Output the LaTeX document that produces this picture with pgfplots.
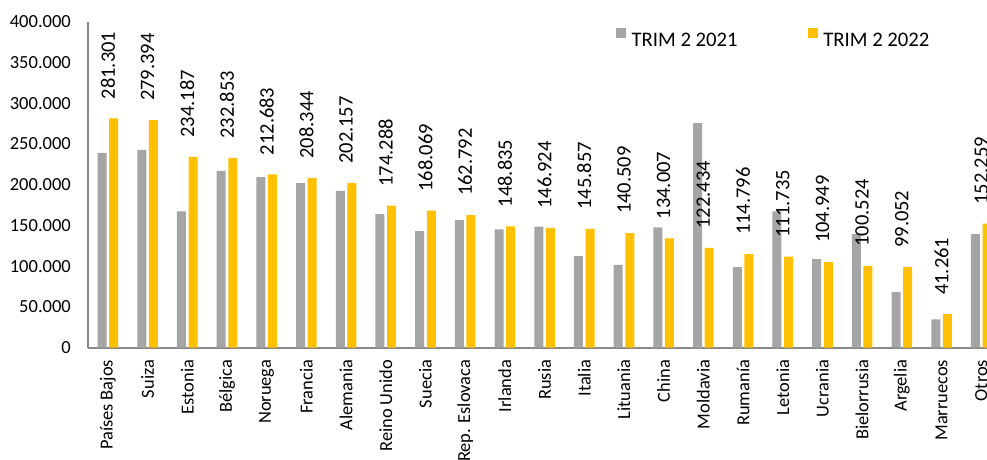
\documentclass[border=0pt]{standalone}
\usepackage{pgfplots}
\pgfplotsset{compat=1.18}
\usepackage{fontspec}
\setmainfont{Carlito}
\definecolor{grey21}{HTML}{A5A5A5}
\definecolor{yel22}{HTML}{FFC000}
\definecolor{axgrey}{HTML}{898989}
\newcommand\xf{\fontsize{18.4}{20}\selectfont}
\newcommand\df{\fontsize{20.5}{22}\selectfont}
\begin{document}
\begin{tikzpicture}
\begin{axis}[
  at={(88pt,-347.7pt)}, anchor=south west,
  scale only axis, width=899pt, height=326pt,
  xmin=-0.5, xmax=22.145, ymin=0, ymax=400000,
  axis x line*=bottom, axis y line*=left,
  axis line style={draw=axgrey, line width=1.8pt, -},
  major tick length=0pt,
  xtick={0,...,22},
  xticklabels={Países Bajos,Suiza,Estonia,Bélgica,Noruega,Francia,Alemania,Reino Unido,Suecia,Rep. Eslovaca,Irlanda,Rusia,Italia,Lituania,China,Moldavia,Rumanía,Letonia,Ucrania,Bielorrusia,Argelia,Marruecos,Otros},
  xticklabel style={yshift=-12pt, rotate=90, anchor=east, inner sep=0pt, font=\xf},
  ytick={0,50000,...,400000},
  scaled y ticks=false,
  yticklabel style={/pgf/number format/.cd, fixed, precision=0, 1000 sep={.}, assume math mode=true, /tikz/.cd, anchor=east, inner sep=0pt, xshift=-17pt, font=\fontsize{18.5}{20}\selectfont},
  ybar, bar width=9pt,
  legend columns=2,
  legend image code/.code={\fill[#1] (0pt,1.6pt) rectangle (10pt,11.6pt);},
  legend style={at={(0.587,0.95)}, anchor=west, draw=none, fill=none, inner sep=0pt,
    font=\fontsize{20.7}{22}\selectfont,
    nodes={inner sep=0pt},
    /tikz/every odd column/.append style={column sep=5.7pt},
    /tikz/every even column/.append style={column sep=70pt}},
  clip=false,
]
\addplot[fill=grey21, draw=none, bar shift=-5.8pt] coordinates {
(0,239000) (1,242600) (2,167400) (3,217000) (4,209400) (5,202000) (6,192300)
(7,164000) (8,143000) (9,156700) (10,145300) (11,148500) (12,112500) (13,101500)
(14,147700) (15,275700) (16,99000) (17,167400) (18,108800) (19,139500) (20,68300)
(21,34800) (22,139500)};
\addlegendentry{TRIM 2 2021}
\addplot[fill=yel22, draw=none, bar shift=5.8pt,
  nodes near coords={\df\pgfmathprintnumber[fixed, precision=0, 1000 sep={.}, assume math mode=true]{\pgfplotspointmeta}},
  every node near coord/.style={yshift=19pt, rotate=90, anchor=west, inner sep=0pt, font=\df, text=black}] coordinates {
(0,281301) (1,279394) (2,234187) (3,232853) (4,212683) (5,208344) (6,202157)
(7,174288) (8,168069) (9,162792) (10,148835) (11,146924) (12,145857) (13,140509)
(14,134007) (15,122434) (16,114796) (17,111735) (18,104949) (19,100524) (20,99052)
(21,41261) (22,152259)};
\addlegendentry{TRIM 2 2022}
\end{axis}
\pgfresetboundingbox
\path[use as bounding box] (0pt,0pt) rectangle (987pt,-459pt);
\end{tikzpicture}
\end{document}
